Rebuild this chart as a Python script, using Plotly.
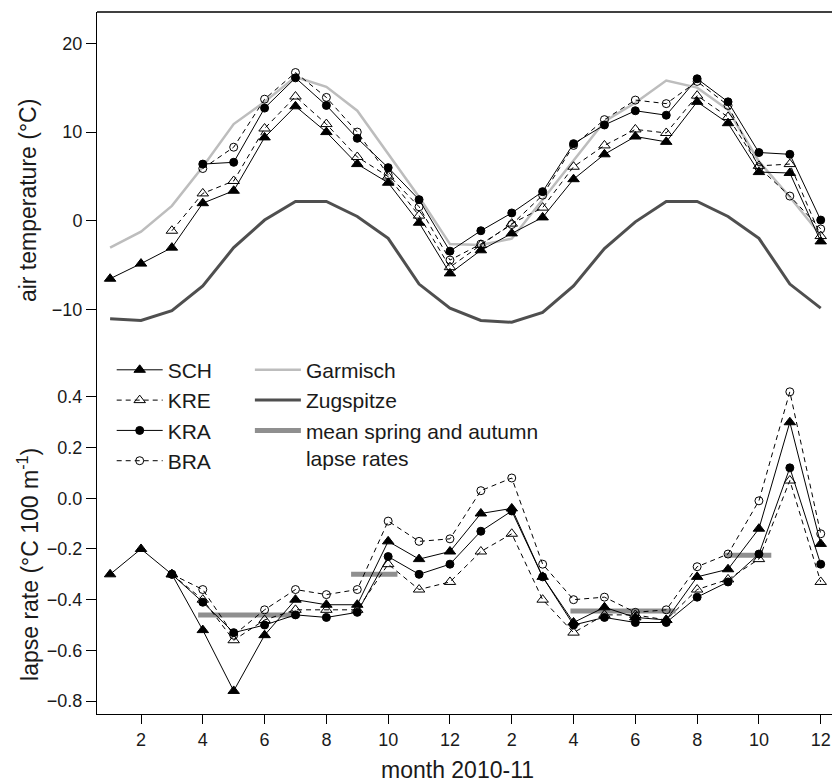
import plotly.graph_objects as go

# ---------------- data ----------------
months = list(range(1, 25))
tick_vals = [2, 4, 6, 8, 10, 12, 14, 16, 18, 20, 22, 24]
tick_text = ["2", "4", "6", "8", "10", "12", "2", "4", "6", "8", "10", "12"]

# air temperature (°C)
SCH_T = [-6.5, -4.8, -3.0, 2.0, 3.4, 9.4, 12.9, 10.0, 6.4, 4.3, -0.2, -5.9,
         -3.3, -1.4, 0.4, 4.7, 7.5, 9.5, 8.9, 13.4, 11.0, 5.5, 5.4, -2.3]
KRE_T = [None, None, -1.1, 3.1, 4.5, 10.4, 14.0, 10.9, 7.2, 5.0, 0.6, -5.2,
         -2.7, -0.3, 1.5, 6.1, 8.5, 10.3, 9.9, 14.1, 11.7, 6.2, 6.4, -1.7]
KRA_T = [None, None, None, 6.4, 6.6, 12.7, 16.1, 13.0, 9.3, 6.0, 2.4, -3.4,
         -1.1, 0.9, 3.3, 8.7, 10.8, 12.4, 11.9, 16.0, 13.4, 7.7, 7.5, 0.1]
BRA_T = [None, None, None, 5.9, 8.3, 13.7, 16.7, 13.9, 10.0, 5.2, 1.6, -4.4,
         -2.6, -0.4, 2.9, 8.5, 11.4, 13.6, 13.2, 15.7, 13.0, 6.0, 2.8, -0.9]
GARMISCH = [-3.0, -1.2, 1.7, 6.1, 10.9, 13.4, 16.2, 15.1, 12.4, 7.6, 2.7, -2.6,
            -2.7, -2.0, 2.4, 6.7, 11.2, 13.3, 15.8, 15.0, 12.5, 6.7, 2.7, -1.6]
ZUGSPITZE = [-11.0, -11.2, -10.1, -7.3, -3.0, 0.1, 2.2, 2.2, 0.5, -1.95, -7.1, -9.8,
             -11.2, -11.4, -10.3, -7.3, -3.1, -0.1, 2.2, 2.2, 0.5, -1.95, -7.1, -9.8]

# lapse rate (°C 100 m-1)
SCH_L = [-0.30, -0.20, -0.30, -0.52, -0.76, -0.54, -0.40, -0.42, -0.42, -0.17, -0.24, -0.21,
         -0.06, -0.04, -0.31, -0.49, -0.43, -0.47, -0.48, -0.31, -0.28, -0.12, 0.30, -0.18]
KRE_L = [None, None, -0.30, -0.40, -0.56, -0.48, -0.44, -0.44, -0.44, -0.26, -0.36, -0.33,
         -0.21, -0.14, -0.40, -0.53, -0.46, -0.46, -0.48, -0.36, -0.32, -0.24, 0.07, -0.33]
KRA_L = [None, None, -0.30, -0.41, -0.53, -0.50, -0.46, -0.47, -0.45, -0.23, -0.30, -0.26,
         -0.13, -0.05, -0.31, -0.50, -0.47, -0.49, -0.49, -0.39, -0.33, -0.22, 0.12, -0.26]
BRA_L = [None, None, -0.30, -0.36, -0.54, -0.44, -0.36, -0.38, -0.36, -0.09, -0.17, -0.16,
         0.03, 0.08, -0.26, -0.40, -0.39, -0.45, -0.44, -0.27, -0.22, -0.01, 0.42, -0.14]

# mean spring and autumn lapse rates (segments)
seg_start = [3.85, 8.8, 15.9, 20.9]
seg_end = [7.15, 10.3, 19.3, 22.4]
seg_value = [-0.46, -0.30, -0.445, -0.225]

# ---------------- styling ----------------
FONT = "Liberation Sans, Arial, sans-serif"
TXT = "#1a1a1a"
DASH = "5px,4px"
stations = [
    ("SCH", SCH_T, SCH_L, "solid", "triangle-up", 10),
    ("KRE", KRE_T, KRE_L, DASH, "triangle-up-open", 10),
    ("KRA", KRA_T, KRA_L, "solid", "circle", 8),
    ("BRA", BRA_T, BRA_L, DASH, "circle-open", 8),
]

fig = go.Figure()

# top panel: reference stations
fig.add_trace(go.Scatter(x=months, y=GARMISCH, mode="lines", name="Garmisch",
                         line=dict(color="#bdbdbd", width=2.5),
                         xaxis="x2", yaxis="y2", legend="legend2"))
fig.add_trace(go.Scatter(x=months, y=ZUGSPITZE, mode="lines", name="Zugspitze",
                         line=dict(color="#4f4f4f", width=3),
                         xaxis="x2", yaxis="y2", legend="legend2"))

# bottom panel: mean segments
sx, sy = [], []
for s, e, v in zip(seg_start, seg_end, seg_value):
    sx += [s, e, None]
    sy += [v, v, None]
fig.add_trace(go.Scatter(x=sx, y=sy, mode="lines",
                         name="mean spring and autumn<br>lapse rates",
                         line=dict(color="#8f8f8f", width=5),
                         xaxis="x", yaxis="y", legend="legend2"))

# station traces, SCH drawn last
order = [1, 2, 3, 0]
for i in order:
    name, t, l, dash, sym, size = stations[i]
    fig.add_trace(go.Scatter(x=months, y=t, mode="lines+markers", name=name,
                             line=dict(color="black", width=1, dash=dash),
                             marker=dict(symbol=sym, size=size, color="black",
                                         line=dict(color="black", width=1)),
                             xaxis="x2", yaxis="y2", showlegend=False))
for i in order:
    name, t, l, dash, sym, size = stations[i]
    fig.add_trace(go.Scatter(x=months, y=l, mode="lines+markers", name=name,
                             line=dict(color="black", width=1, dash=dash),
                             marker=dict(symbol=sym, size=size, color="black",
                                         line=dict(color="black", width=1)),
                             xaxis="x", yaxis="y", legend="legend",
                             legendrank=i + 1))

xr = [0.576, 24.365]
split = 0.5328
axis_common = dict(showgrid=False, zeroline=False, showline=True, linecolor="black",
                   linewidth=1, ticks="outside", tickcolor="black",
                   tickfont=dict(family=FONT, size=18, color=TXT))

fig.update_layout(
    width=832, height=783,
    margin=dict(l=97, r=0, t=12, b=69),
    paper_bgcolor="white", plot_bgcolor="white",
    font=dict(family=FONT, color=TXT),
    xaxis=dict(domain=[0, 1], range=xr, anchor="y", tickvals=tick_vals,
               ticktext=tick_text, ticklen=9, **axis_common),
    yaxis=dict(domain=[0, split], range=[-0.851, 0.6245], anchor="x",
               tickvals=[-0.8, -0.6, -0.4, -0.2, 0.0, 0.2, 0.4], tickformat=".1f",
               ticklen=10, **axis_common),
    xaxis2=dict(domain=[0, 1], range=xr, anchor="y2", matches="x",
                showticklabels=False, showgrid=False, zeroline=False,
                showline=False, ticks=""),
    yaxis2=dict(domain=[split, 1], range=[-13.39, 23.51], anchor="x2",
                tickvals=[-10, 0, 10, 20], ticklen=10, **axis_common),
    legend=dict(x=0.02, y=0.519, xanchor="left", yanchor="top",
                bgcolor="rgba(0,0,0,0)", borderwidth=0, itemwidth=46,
                tracegroupgap=0, font=dict(family=FONT, size=21, color=TXT),
                traceorder="normal"),
    legend2=dict(x=0.208, y=0.519, xanchor="left", yanchor="top",
                 bgcolor="rgba(0,0,0,0)", borderwidth=0, itemwidth=46,
                 tracegroupgap=0, valign="top",
                 font=dict(family=FONT, size=21, color=TXT)),
    shapes=[dict(type="line", xref="paper", yref="paper", x0=0, x1=1, y0=1, y1=1,
                 line=dict(color="black", width=1.5))],
    annotations=[
        dict(text="air temperature (°C)", xref="paper", yref="paper",
             x=-0.0939, y=0.732, textangle=-90, showarrow=False,
             xanchor="center", yanchor="middle",
             font=dict(family=FONT, size=23, color=TXT)),
        dict(text="lapse rate (°C 100 m<sup>-1</sup>)", xref="paper", yref="paper",
             x=-0.0939, y=0.2137, textangle=-90, showarrow=False,
             xanchor="center", yanchor="middle",
             font=dict(family=FONT, size=23, color=TXT)),
        dict(text="month 2010-11", xref="paper", yref="paper",
             x=0.491, y=-0.0798, showarrow=False,
             xanchor="center", yanchor="middle",
             font=dict(family=FONT, size=23, color=TXT)),
    ],
)

fig.write_html("out.html")
